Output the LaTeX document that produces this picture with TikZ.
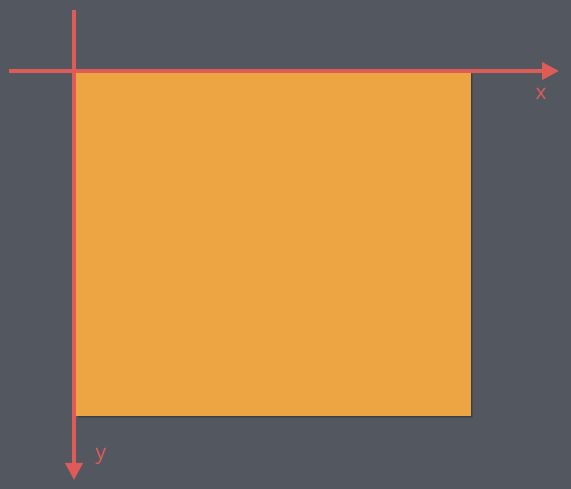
\documentclass[tikz,border=0pt]{standalone}
\usepackage{fontspec}
\setmainfont{Open Sans}
\usetikzlibrary{arrows.meta}
\definecolor{bg}{HTML}{525760}
\definecolor{box}{HTML}{EDA443}
\definecolor{axis}{HTML}{DF5B58}
\tikzset{
  axisline/.style={draw=axis, line width=4pt, -{Triangle[length=17pt,width=17pt]}},
  axislabel/.style={text=axis, font=\fontsize{21}{21}\selectfont, inner sep=0pt}
}
\begin{document}
\begin{tikzpicture}[x=1pt,y=1pt]
  \fill[bg] (0,0) rectangle (571,489);
  \useasboundingbox (0,0) rectangle (571,489);
  % shadow
  \fill[black, opacity=0.12] (78,70.5) rectangle (473,415);
  \fill[black, opacity=0.18] (77.5,71.5) rectangle (472,416);
  \fill[box] (76,73) rectangle (471,417);
  \coordinate (xs) at (9,418);
  \coordinate (xe) at (559,418);
  \coordinate (ys) at (74,479);
  \coordinate (ye) at (74,9);
  \draw[axisline] (xs) -- (xe);
  \draw[axisline] (ys) -- (ye);
  \node[axislabel, anchor=base] (xl) at (541,389) {x};
  \node[axislabel, anchor=base] (yl) at (101,29) {y};
\end{tikzpicture}
\end{document}
